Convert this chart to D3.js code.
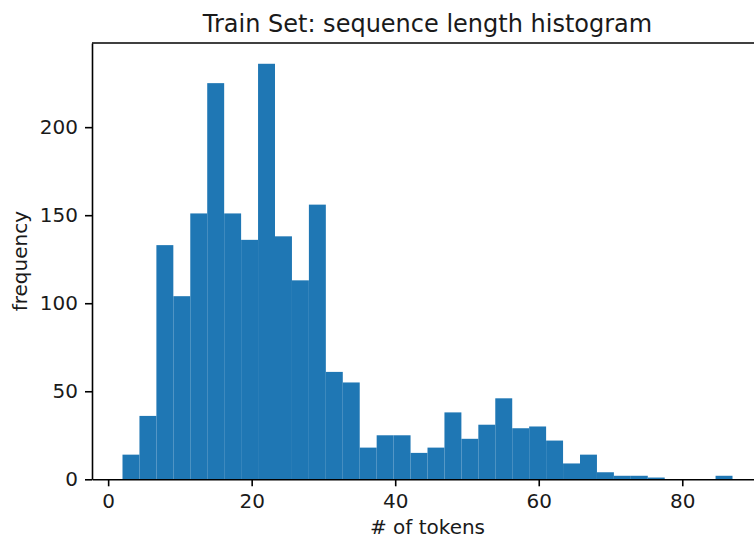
<!DOCTYPE html>
<html>
<head>
<meta charset="utf-8">
<script src="https://cdn.jsdelivr.net/npm/d3@7"></script>
<style>
  body { margin: 0; background: #fff; }
  svg { display: block; }
  text { font-family: "DejaVu Sans", sans-serif; fill: #1a1a1a; }
  .axis path, .axis line { stroke: #000; }
  .axis text { font-size: 20px; fill: #1a1a1a; font-family: "DejaVu Sans", sans-serif; }
</style>
</head>
<body>
<div id="chart"></div>
<script>
// histogram of sequence lengths, 36 bins between min and max length
var binStart = 2, binEnd = 87;
var counts = [14, 36, 133, 104, 151, 225, 151, 136, 236, 138, 113, 156,
              61, 55, 18, 25, 25, 15, 18, 38, 23, 31, 46, 29,
              30, 22, 9, 14, 4, 2, 2, 1, 0, 0, 0, 2];
var xTicks = [0, 20, 40, 60, 80];
var yTicks = [0, 50, 100, 150, 200];

var W = 754, H = 539;
var margin = {top: 43, left: 92, bottom: 59.7};
var plotW = 671, plotH = H - margin.top - margin.bottom;

var binW = (binEnd - binStart) / counts.length;
var bins = counts.map(function(c, i) {
    return {x0: binStart + i * binW, x1: binStart + (i + 1) * binW, n: c};
});

var span = binEnd - binStart;
var x = d3.scaleLinear()
    .domain([binStart - 0.05 * span, binEnd + 0.05 * span])
    .range([0, plotW]);
var y = d3.scaleLinear()
    .domain([0, 1.05 * d3.max(counts)])
    .range([plotH, 0]);

var svg = d3.select('#chart').append('svg')
    .attr('width', W)
    .attr('height', H)
  .append('g')
    .attr('transform', 'translate(' + margin.left + ',' + margin.top + ')');

svg.append('g')
    .selectAll('rect')
    .data(bins)
    .enter()
    .append('rect')
    .attr('x', function(d) { return x(d.x0); })
    .attr('width', function(d) { return x(d.x1) - x(d.x0); })
    .attr('y', function(d) { return y(d.n); })
    .attr('height', function(d) { return plotH - y(d.n); })
    .attr('fill', '#1f77b4');

var xAxis = d3.axisBottom(x)
    .tickValues(xTicks)
    .tickSize(7)
    .tickPadding(6)
    .tickSizeOuter(0);
var yAxis = d3.axisLeft(y)
    .tickValues(yTicks)
    .tickSize(7)
    .tickPadding(7)
    .tickSizeOuter(0);

var gx = svg.append('g')
    .attr('class', 'x axis')
    .attr('transform', 'translate(0,' + plotH + ')')
    .call(xAxis);
var gy = svg.append('g')
    .attr('class', 'y axis')
    .call(yAxis);
gx.select('.domain').attr('stroke-width', 1.6);
gy.select('.domain').attr('stroke-width', 1.6);
gx.selectAll('.tick line').attr('stroke-width', 1.6);
gy.selectAll('.tick line').attr('stroke-width', 1.6);
gx.selectAll('.tick text').attr('dy', '0.78em');

// top spine
svg.append('line')
    .attr('x1', 0).attr('x2', plotW)
    .attr('y1', 0).attr('y2', 0)
    .attr('stroke', '#000')
    .attr('stroke-width', 1.6);

svg.append('text')
    .attr('x', plotW / 2)
    .attr('y', -11)
    .attr('text-anchor', 'middle')
    .style('font-size', '24px')
    .text('Train Set: sequence length histogram');

svg.append('text')
    .attr('x', plotW / 2)
    .attr('y', plotH + 55)
    .attr('text-anchor', 'middle')
    .style('font-size', '20px')
    .text('# of tokens');

svg.append('text')
    .attr('transform', 'translate(' + (27 - margin.left) + ',' + (plotH / 2) + ')rotate(-90)')
    .attr('text-anchor', 'middle')
    .style('font-size', '20px')
    .text('frequency');
</script>
</body>
</html>
